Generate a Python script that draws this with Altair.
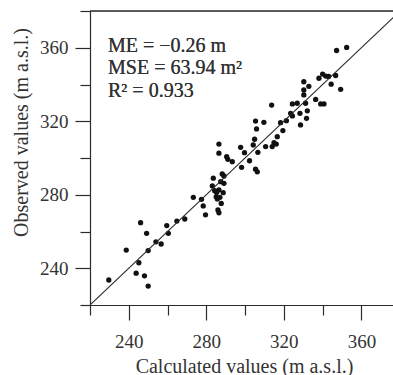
import altair as alt
import pandas as pd

# Calculated (x) and observed (y) groundwater levels, m a.s.l.
calculated = [229.7, 238.7, 246.1, 249.2, 245.2, 243.8, 248.1, 250.0, 250.0, 254.0,
              256.7, 259.6, 260.4, 264.8, 268.9, 273.3, 277.5, 278.4, 279.6, 283.1,
              283.6, 284.3, 285.1, 285.7, 286.5, 287.0, 287.7, 286.0, 286.5, 287.4,
              288.2, 289.1, 289.1, 288.7, 286.5, 286.5, 290.5, 291.1, 293.4, 297.7,
              299.7, 298.2, 302.3, 304.2, 306.6, 305.4, 306.3, 310.6, 304.9, 313.7,
              305.4, 309.7, 305.9, 318.3, 321.3, 319.5, 316.6, 314.9, 316.1, 314.0,
              324.4, 326.9, 323.5, 324.4, 328.3, 328.6, 332.1, 331.7, 331.2, 336.4,
              339.0, 340.7, 330.3, 332.9, 330.3, 330.3, 338.1, 340.0, 341.6, 343.1,
              346.7, 344.4, 349.3, 347.2, 352.4, 285.3]
observed = [233.6, 249.9, 264.8, 259.0, 243.0, 237.3, 235.9, 230.3, 249.6, 254.4,
            253.2, 263.2, 259.0, 265.7, 266.8, 278.6, 277.5, 273.9, 269.1, 284.8,
            289.0, 282.2, 278.9, 277.7, 282.6, 278.6, 275.3, 271.7, 270.2, 287.1,
            291.3, 290.2, 286.2, 281.1, 307.6, 302.6, 300.7, 299.3, 298.0, 305.8,
            302.9, 294.9, 298.5, 307.1, 303.1, 293.9, 292.5, 306.2, 310.2, 328.8,
            320.1, 319.4, 315.8, 319.2, 320.3, 314.9, 311.6, 308.3, 307.6, 306.2,
            329.4, 329.8, 324.3, 322.9, 324.3, 318.0, 325.7, 321.6, 329.8, 331.9,
            329.4, 329.4, 341.5, 339.0, 337.0, 334.3, 343.4, 345.7, 344.6, 344.4,
            344.9, 340.2, 337.4, 358.5, 360.2, 281.2]

stats_lines = ["ME = \u22120.26 m", "MSE = 63.94 m\u00b2", "R\u00b2 = 0.933"]
major_ticks = [240, 280, 320, 360]
minor_ticks = [220, 260, 300, 340, 380]
identity_line = [220, 380]

FONT = "Liberation Serif"
INK = "#2b2b2b"
TXT = "#333333"

df = pd.DataFrame({"calc": calculated, "obs": observed})
line_df = pd.DataFrame({"v": identity_line})

xs = alt.Scale(domain=[220, 376.3], nice=False, zero=False)
ys = alt.Scale(domain=[220, 380], nice=False, zero=False)

common = dict(grid=False, labelOverlap=False, labelFlush=False,
              domainColor=INK, tickColor=INK, domainWidth=1.2, tickWidth=1.2,
              labelFont=FONT, labelFontSize=19, labelColor=TXT,
              titleFont=FONT, titleFontSize=20, titleColor=TXT, titleFontWeight="normal")

x_major = alt.Axis(
    orient="bottom", values=major_ticks, tickSize=15, labelPadding=12,
    title="Calculated values (m a.s.l.)",
    titleX=154, titleY=67, titleBaseline="alphabetic", titleAlign="center", **common,
)
y_major = alt.Axis(
    orient="left", values=major_ticks, tickSize=15, labelPadding=7,
    title="Observed values (m a.s.l.)",
    titleX=-63, titleY=121, titleBaseline="alphabetic", titleAlign="center", titleAngle=270,
    **common,
)
x_minor = alt.Axis(orient="bottom", values=minor_ticks, tickSize=10, labels=False,
                   title=None, domain=False, grid=False, tickColor=INK, tickWidth=1.2)
y_minor = alt.Axis(orient="left", values=minor_ticks, tickSize=10, labels=False,
                   title=None, domain=False, grid=False, tickColor=INK, tickWidth=1.2)

points = alt.Chart(df).mark_circle(size=28, color="#111111", opacity=1).encode(
    x=alt.X("calc:Q", scale=xs, axis=x_major),
    y=alt.Y("obs:Q", scale=ys, axis=y_major),
)

one_to_one = alt.Chart(line_df).mark_line(color=INK, strokeWidth=1.1, clip=True).encode(
    x=alt.X("v:Q", scale=xs, axis=x_minor),
    y=alt.Y("v:Q", scale=ys, axis=y_minor),
)

top_border = alt.Chart(line_df).mark_rule(color=INK, strokeWidth=1.2).encode(
    y=alt.datum(380, scale=ys, axis=None),
    x=alt.datum(220, scale=xs, axis=None),
    x2=alt.datum(376.3),
)

stats = alt.Chart(line_df).mark_text(
    align="left", baseline="alphabetic", font=FONT, fontSize=20, color=TXT, lineHeight=22.5,
).encode(
    x=alt.datum(229.3, scale=xs, axis=None),
    y=alt.datum(357.9, scale=ys, axis=None),
    text=alt.value(stats_lines),
)

chart = alt.layer(points, one_to_one, top_border, stats).resolve_axis(
    x="independent", y="independent"
).properties(
    width=303, height=294,
    autosize=alt.AutoSizeParams(type="none"),
    padding={"left": 90, "top": 11, "right": 0, "bottom": 70},
).configure_view(stroke=None).configure(background="white")

chart.save("out.html", embed_options={"renderer": "svg", "actions": False})
